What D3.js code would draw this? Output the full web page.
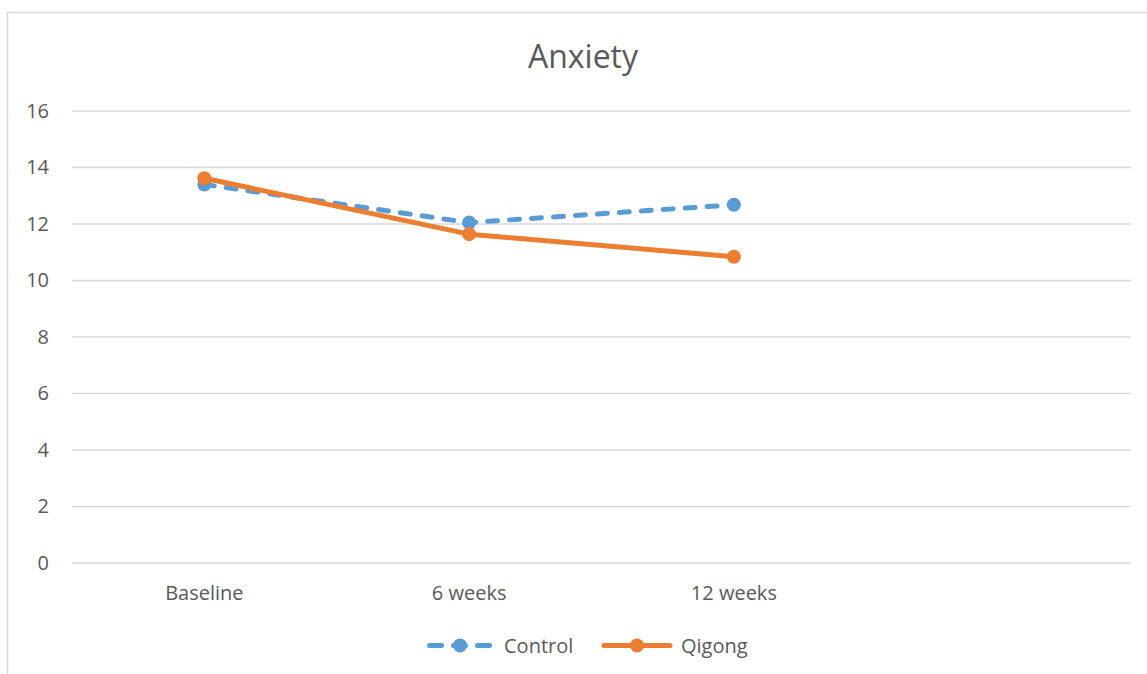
<!DOCTYPE html>
<html>
<head>
<meta charset="utf-8">
<script src="https://cdn.jsdelivr.net/npm/d3@7"></script>
<style>
  html, body { margin: 0; padding: 0; background: #fff; }
  svg { display: block; }
  text { font-family: "Open Sans", Lato, "Liberation Sans", sans-serif; fill: #595959; }
</style>
</head>
<body>
<svg id="chart" width="1147" height="674"></svg>
<script>
// Time points on the category axis (the fourth band is left empty)
const categories = ["Baseline", "6 weeks", "12 weeks", ""];
const controlValues = [13.4, 12.05, 12.68];
const qigongValues = [13.62, 11.64, 10.84];
const yTicks = [0, 2, 4, 6, 8, 10, 12, 14, 16];
const seriesNames = ["Control", "Qigong"];

const svg = d3.select("#chart");
const W = 1147, H = 674;
const plot = { left: 72, right: 1131, top: 111, bottom: 563 };
const colors = { Control: "#5b9bd5", Qigong: "#ed7d31" };
const font = "'Open Sans', Lato, sans-serif";
const lineWidth = 5, markerR = 7;

// chart frame
svg.append("rect")
  .attr("x", 7.5).attr("y", 12.5)
  .attr("width", W + 10).attr("height", H + 10)
  .attr("fill", "#fff").attr("stroke", "#d9d9d9").attr("stroke-width", 1.5);

const x = d3.scaleBand().domain(categories.map((c, i) => i)).range([plot.left, plot.right]);
const y = d3.scaleLinear().domain([0, 16]).range([plot.bottom, plot.top]);

// gridlines
svg.append("g")
  .selectAll("line").data(yTicks).join("line")
  .attr("x1", plot.left).attr("x2", plot.right)
  .attr("y1", d => y(d)).attr("y2", d => y(d))
  .attr("stroke", "#d9d9d9").attr("stroke-width", 1.5);

// y axis labels
const yAxis = svg.append("g")
  .attr("transform", `translate(${plot.left},0)`)
  .call(d3.axisLeft(y).tickValues(yTicks).tickSize(0).tickPadding(23));
yAxis.select(".domain").remove();
yAxis.selectAll("text")
  .style("font-size", "20px")
  .style("font-family", font)
  .attr("fill", "#595959");

// x axis labels
const xAxis = svg.append("g")
  .attr("transform", `translate(0,${plot.bottom})`)
  .call(d3.axisBottom(x).tickFormat(i => categories[i]).tickSize(0).tickPadding(23));
xAxis.select(".domain").remove();
xAxis.selectAll("text")
  .style("font-size", "20px")
  .style("font-family", font)
  .attr("fill", "#595959");

// title
svg.append("text")
  .attr("x", 583).attr("y", 68)
  .attr("text-anchor", "middle")
  .style("font-size", "32px")
  .text("Anxiety");

const cx = i => x(i) + x.bandwidth() / 2;
const line = d3.line().x((d, i) => cx(i)).y(d => y(d));

const series = [
  { name: "Control", values: controlValues, dash: "10,12" },
  { name: "Qigong", values: qigongValues, dash: null }
];

series.forEach(s => {
  svg.append("path")
    .datum(s.values)
    .attr("d", line)
    .attr("fill", "none")
    .attr("stroke", colors[s.name])
    .attr("stroke-width", lineWidth)
    .attr("stroke-dasharray", s.dash)
    .attr("stroke-linecap", s.dash ? "round" : "butt")
    .attr("stroke-linejoin", "round");
  svg.append("g").selectAll("circle").data(s.values).join("circle")
    .attr("cx", (d, i) => cx(i))
    .attr("cy", d => y(d))
    .attr("r", markerR)
    .attr("fill", colors[s.name]);
});

// legend
const legend = svg.append("g");
const legendItems = [
  { name: seriesNames[0], x0: 427, dash: "12,12" },
  { name: seriesNames[1], x0: 604, dash: null }
];
const ly = 645.5;
legendItems.forEach(it => {
  legend.append("line")
    .attr("x1", it.x0 + (it.dash ? 2.5 : 0)).attr("x2", it.x0 + (it.dash ? 62.5 : 66))
    .attr("y1", ly).attr("y2", ly)
    .attr("stroke", colors[it.name]).attr("stroke-width", lineWidth)
    .attr("stroke-linecap", "round")
    .attr("stroke-dasharray", it.dash);
  legend.append("circle")
    .attr("cx", it.x0 + 33).attr("cy", ly).attr("r", markerR)
    .attr("fill", colors[it.name]);
  legend.append("text")
    .attr("x", it.x0 + 77).attr("y", 653)
    .style("font-size", "20px")
    .text(it.name);
});
</script>
</body>
</html>
